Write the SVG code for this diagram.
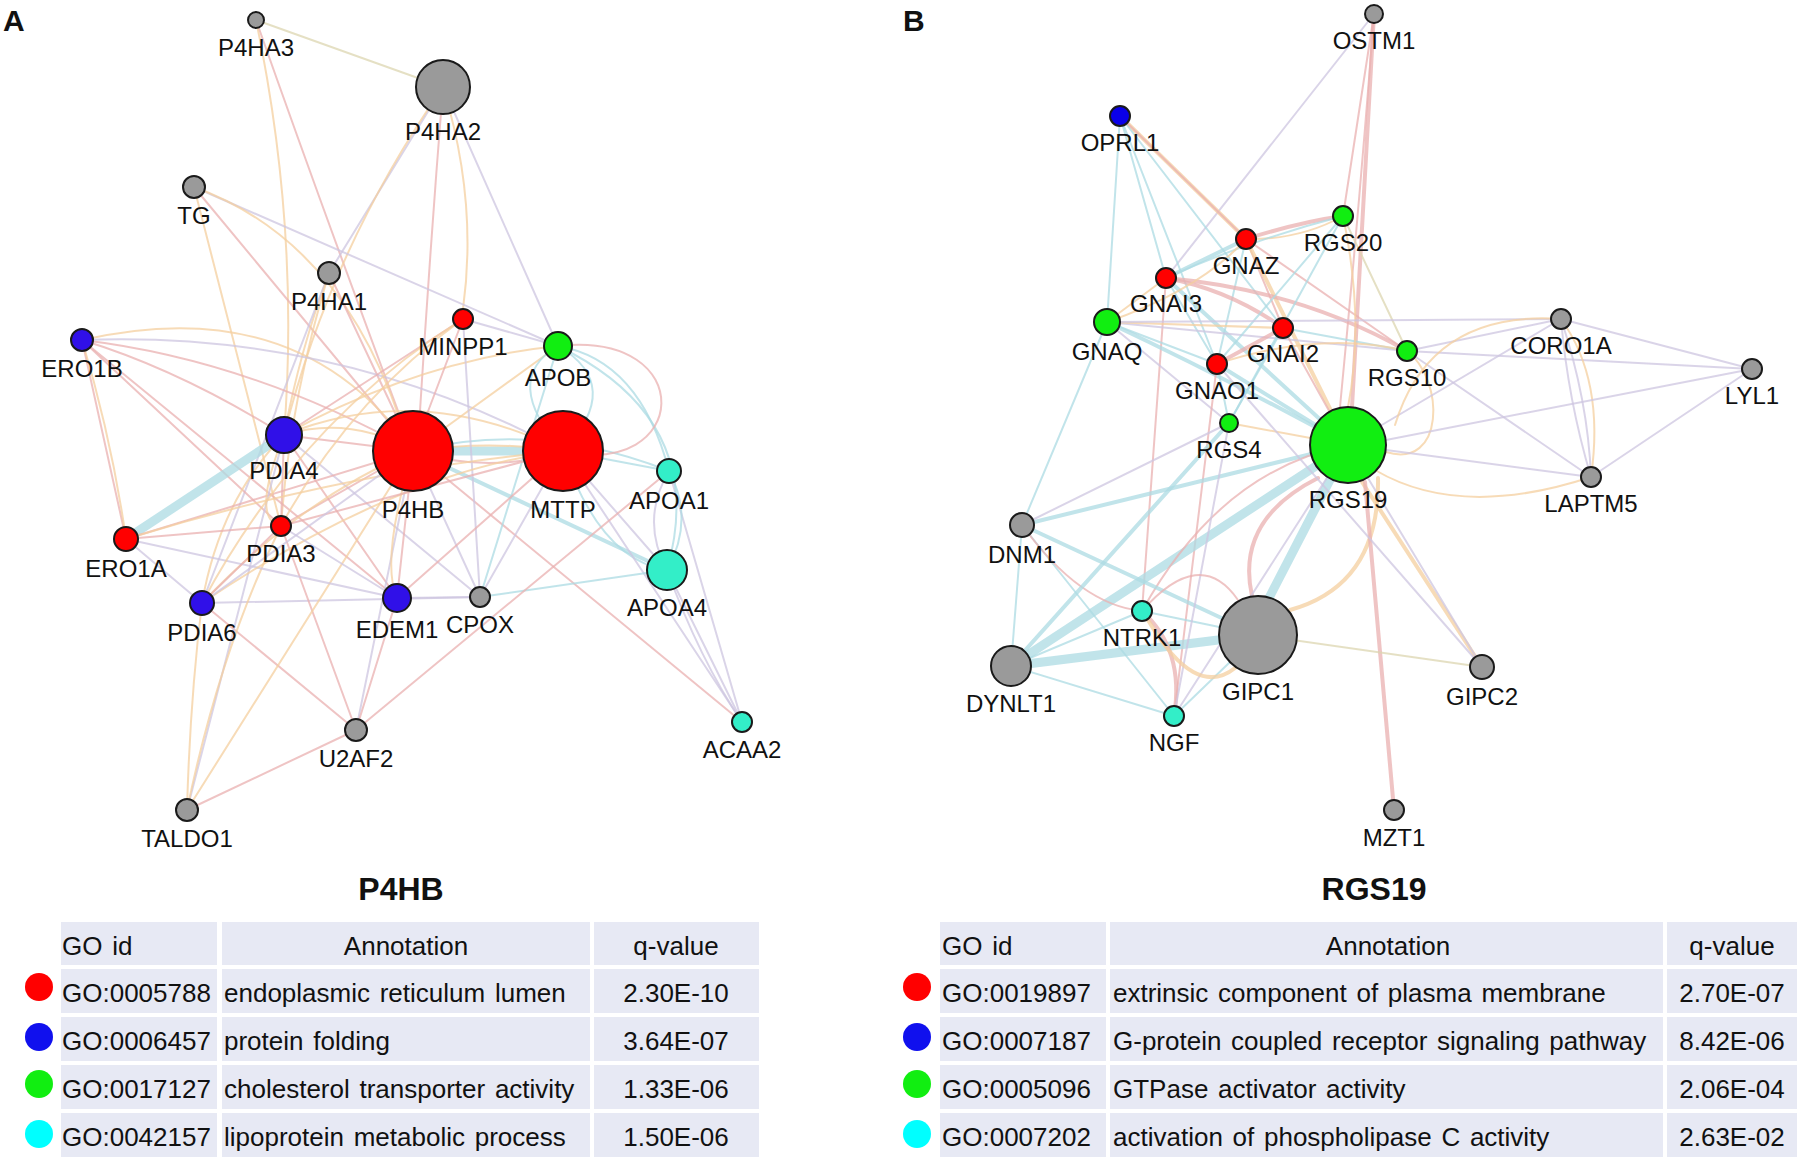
<svg xmlns="http://www.w3.org/2000/svg" width="1800" height="1160" viewBox="0 0 1800 1160">
<defs>
<style>
text{font-family:"Liberation Sans",Arial,sans-serif;fill:#111}
.lbl{font-size:24px;text-anchor:middle}
.pn{font-size:30px;font-weight:bold}
.ttl{font-size:32px;font-weight:bold;text-anchor:middle}
.tt{font-size:26px;word-spacing:2.5px}
.c{text-anchor:middle}
.cell{fill:#e7e9f4}
.n{stroke:#1a1a1a;stroke-width:2}
.red{fill:#ff0000}.blu{fill:#3010e8}.grn{fill:#11ee11}.tur{fill:#33eec8}.gry{fill:#9a9a9a}
#connectors path{fill:none;stroke-width:2;stroke-linecap:round;opacity:.75}
.p{stroke:#eab0b0}.o{stroke:#f4cf9f}.l{stroke:#cec6e0}.b{stroke:#acdbe3}.t{stroke:#dcd6b0}
#connectors path.m{stroke-width:4}
#connectors path.k{stroke-width:9}
</style>
</defs>
<rect width="1800" height="1160" fill="#ffffff"/>

<g id="connectors">
<!-- Panel A -->
<path class="t" d="M256,20 L443,87"/>
<path class="p" d="M256,20 Q330,230 413,451"/>
<path class="o" d="M256,20 Q300,230 284,435"/>
<path class="p" d="M443,87 Q430,250 420,411"/>
<path class="o" d="M443,87 Q478,200 463,309"/>
<path class="l" d="M443,87 L329,273"/>
<path class="o" d="M443,87 Q330,250 284,435"/>
<path class="l" d="M443,87 L558,346"/>
<path class="p" d="M194,187 L413,451"/>
<path class="l" d="M194,187 L558,346"/>
<path class="o" d="M194,187 L281,526"/>
<path class="o" d="M194,187 Q340,240 400,420"/>
<path class="p" d="M329,273 L413,451"/>
<path class="o" d="M329,273 Q300,350 284,435"/>
<path class="l" d="M329,273 L202,603"/>
<path class="o" d="M329,273 Q290,400 281,526"/>
<path class="p" d="M82,340 L126,539"/>
<path class="o" d="M82,340 Q112,440 126,539"/>
<path class="p" d="M82,340 Q180,370 284,435"/>
<path class="o" d="M82,340 Q300,290 413,451"/>
<path class="p" d="M82,340 Q250,360 413,451"/>
<path class="p" d="M82,340 L281,526"/>
<path class="p" d="M82,340 L397,598"/>
<path class="l" d="M82,340 Q340,330 563,451"/>
<path class="b k" d="M284,435 L126,539"/>
<path class="p" d="M284,435 L413,451"/>
<path class="o" d="M284,435 Q350,415 413,451"/>
<path class="o" d="M284,435 Q420,380 563,451"/>
<path class="o" d="M284,435 Q420,360 558,346"/>
<path class="p" d="M284,435 L463,319"/>
<path class="p" d="M284,435 L281,526"/>
<path class="o" d="M284,435 Q220,500 202,603"/>
<path class="p" d="M284,435 L397,598"/>
<path class="l" d="M284,435 L480,597"/>
<path class="b k" d="M413,451 L563,451"/>
<path class="o" d="M413,451 Q490,440 563,451"/>
<path class="p" d="M413,451 Q490,475 563,451"/>
<path class="o" d="M413,451 L558,346"/>
<path class="p" d="M413,451 L463,319"/>
<path class="b" d="M413,451 Q540,420 669,471"/>
<path class="b m" d="M413,451 L667,570"/>
<path class="p" d="M413,451 L397,598"/>
<path class="l" d="M413,451 L480,597"/>
<path class="p" d="M413,451 L281,526"/>
<path class="o" d="M413,451 Q300,500 202,603"/>
<path class="p" d="M413,451 L126,539"/>
<path class="l" d="M413,451 L356,730"/>
<path class="p" d="M413,451 L742,722"/>
<path class="o" d="M413,451 Q380,560 397,598"/>
<path class="b" d="M563,451 Q500,380 558,346"/>
<path class="b" d="M558,346 Q625,385 563,451"/>
<path class="b" d="M563,451 L669,471"/>
<path class="l" d="M563,451 L667,570"/>
<path class="b" d="M563,451 Q600,560 667,570"/>
<path class="l" d="M563,451 L480,597"/>
<path class="l" d="M563,451 L742,722"/>
<path class="l" d="M667,570 L742,722"/>
<path class="l" d="M667,570 Q700,660 742,722"/>
<path class="l" d="M669,471 L742,722"/>
<path class="b" d="M669,471 Q695,520 667,570"/>
<path class="l" d="M669,471 Q640,520 667,570"/>
<path class="b" d="M558,346 Q640,360 669,471"/>
<path class="b" d="M558,346 Q710,420 667,570"/>
<path class="p" d="M558,346 C700,330 690,480 563,451"/>
<path class="l" d="M397,598 L480,597"/>
<path class="l" d="M202,603 L480,597"/>
<path class="b" d="M480,597 L667,570"/>
<path class="l" d="M480,597 L463,319"/>
<path class="b" d="M480,597 L558,346"/>
<path class="p" d="M356,730 L202,603"/>
<path class="p" d="M356,730 L397,598"/>
<path class="p" d="M356,730 L281,526"/>
<path class="p" d="M356,730 L669,471"/>
<path class="p" d="M356,730 L187,810"/>
<path class="o" d="M187,810 Q190,700 202,603"/>
<path class="l" d="M187,810 L284,435"/>
<path class="o" d="M187,810 Q220,650 281,526"/>
<path class="o" d="M187,810 L413,451"/>
<path class="l" d="M126,539 L202,603"/>
<path class="p" d="M126,539 L281,526"/>
<path class="l" d="M126,539 L397,598"/>
<path class="o" d="M126,539 Q350,470 563,451"/>
<path class="p" d="M202,603 L281,526"/>
<path class="o" d="M202,603 Q400,470 563,451"/>
<path class="l" d="M463,319 L558,346"/>
<path class="o" d="M463,319 Q350,400 281,526"/>
<path class="o" d="M463,319 Q300,420 202,603"/>
<path class="l" d="M281,526 L397,598"/>
<path class="p" d="M397,598 L563,451"/>
<path class="p" d="M281,526 L563,451"/>
<path class="o" d="M284,435 Q250,520 281,526"/>
<path class="l" d="M202,603 L413,451"/>
<!-- Panel B -->
<path class="p" d="M1374,14 L1343,216"/>
<path class="p m" d="M1374,14 L1352,407"/>
<path class="p" d="M1374,14 Q1360,200 1340,407"/>
<path class="l" d="M1374,14 L1166,278"/>
<path class="o m" d="M1120,116 L1246,239"/>
<path class="b" d="M1120,116 L1166,278"/>
<path class="b" d="M1120,116 L1217,364"/>
<path class="b" d="M1120,116 L1283,328"/>
<path class="p" d="M1120,116 L1246,239"/>
<path class="b" d="M1120,116 L1107,322"/>
<path class="p m" d="M1246,239 Q1300,222 1343,216"/>
<path class="o" d="M1246,239 Q1300,240 1343,216"/>
<path class="b m" d="M1246,239 L1166,278"/>
<path class="b" d="M1246,239 L1217,364"/>
<path class="p" d="M1246,239 L1283,328"/>
<path class="o m" d="M1246,239 L1348,445"/>
<path class="p" d="M1246,239 L1407,351"/>
<path class="p m" d="M1166,278 Q1230,290 1283,328"/>
<path class="p m" d="M1166,278 Q1300,290 1407,351"/>
<path class="o" d="M1166,278 L1107,322"/>
<path class="b" d="M1166,278 L1217,364"/>
<path class="b m" d="M1166,278 L1348,445"/>
<path class="b" d="M1166,278 Q1250,240 1343,216"/>
<path class="p" d="M1166,278 L1142,611"/>
<path class="l" d="M1107,322 L1407,351"/>
<path class="o" d="M1107,322 L1283,328"/>
<path class="b" d="M1107,322 L1217,364"/>
<path class="b m" d="M1107,322 Q1230,380 1348,445"/>
<path class="b" d="M1107,322 L1022,525"/>
<path class="l" d="M1107,322 L1229,423"/>
<path class="o" d="M1107,322 Q1200,290 1246,239"/>
<path class="p m" d="M1283,328 L1217,364"/>
<path class="b" d="M1283,328 L1407,351"/>
<path class="p" d="M1283,328 L1348,445"/>
<path class="b" d="M1283,328 L1229,423"/>
<path class="b" d="M1217,364 L1229,423"/>
<path class="b m" d="M1217,364 L1348,445"/>
<path class="b" d="M1217,364 L1343,216"/>
<path class="o" d="M1217,364 Q1320,330 1407,351"/>
<path class="p" d="M1217,364 L1174,716"/>
<path class="o" d="M1343,216 Q1365,320 1348,407"/>
<path class="t" d="M1343,216 L1407,351"/>
<path class="b" d="M1343,216 L1229,423"/>
<path class="l" d="M1407,351 L1561,319"/>
<path class="o" d="M1407,351 C1445,380 1445,470 1386,452"/>
<path class="l" d="M1407,351 L1591,477"/>
<path class="l" d="M1407,351 L1752,369"/>
<path class="l" d="M1561,319 L1752,369"/>
<path class="l" d="M1561,319 Q1568,400 1591,477"/>
<path class="l" d="M1561,319 Q1588,400 1591,477"/>
<path class="o" d="M1561,319 Q1605,380 1591,477"/>
<path class="l" d="M1561,319 L1348,445"/>
<path class="l" d="M1561,319 L1107,322"/>
<path class="o" d="M1561,319 Q1430,310 1395,425"/>
<path class="l" d="M1752,369 L1386,440"/>
<path class="l" d="M1752,369 L1591,477"/>
<path class="l" d="M1386,450 L1591,477"/>
<path class="o" d="M1375,470 Q1460,520 1591,477"/>
<path class="b m" d="M1348,445 L1022,525"/>
<path class="b k" d="M1348,445 L1011,666"/>
<path class="b k" d="M1330,480 L1270,596"/>
<path class="p m" d="M1318,478 Q1235,520 1252,596"/>
<path class="o m" d="M1378,478 Q1380,585 1290,610"/>
<path class="p" d="M1348,445 Q1220,470 1142,611"/>
<path class="l" d="M1348,445 L1174,716"/>
<path class="o m" d="M1362,482 L1482,667"/>
<path class="l" d="M1348,445 L1482,667"/>
<path class="p m" d="M1365,482 L1394,810"/>
<path class="o" d="M1229,423 L1348,445"/>
<path class="b" d="M1022,525 L1011,666"/>
<path class="b m" d="M1022,525 L1258,635"/>
<path class="b" d="M1022,525 L1174,716"/>
<path class="p" d="M1022,525 Q1080,605 1142,611"/>
<path class="l" d="M1022,525 L1229,423"/>
<path class="b k" d="M1011,666 L1258,635"/>
<path class="b" d="M1011,666 L1174,716"/>
<path class="b" d="M1011,666 L1142,611"/>
<path class="b m" d="M1011,666 L1229,423"/>
<path class="p m" d="M1142,611 Q1185,650 1174,716"/>
<path class="b" d="M1142,611 L1258,635"/>
<path class="b" d="M1174,716 L1258,635"/>
<path class="l" d="M1174,716 L1229,423"/>
<path class="o m" d="M1148,620 Q1195,700 1235,668"/>
<path class="p" d="M1142,611 Q1200,545 1238,600"/>
<path class="t" d="M1258,635 L1482,667"/>
<path class="l" d="M1482,667 L1217,364"/>
</g>

<!-- Panel A nodes -->
<text class="pn" x="3" y="31">A</text>
<g id="P4HA3"><circle class="n gry" cx="256" cy="20" r="8"/><text class="lbl" x="256" y="56">P4HA3</text></g>
<g id="P4HA2"><circle class="n gry" cx="443" cy="87" r="27"/><text class="lbl" x="443" y="140">P4HA2</text></g>
<g id="TG"><circle class="n gry" cx="194" cy="187" r="11"/><text class="lbl" x="194" y="224">TG</text></g>
<g id="P4HA1"><circle class="n gry" cx="329" cy="273" r="11"/><text class="lbl" x="329" y="310">P4HA1</text></g>
<g id="MINPP1"><circle class="n red" cx="463" cy="319" r="10"/><text class="lbl" x="463" y="355">MINPP1</text></g>
<g id="ERO1B"><circle class="n blu" cx="82" cy="340" r="11"/><text class="lbl" x="82" y="377">ERO1B</text></g>
<g id="APOB"><circle class="n grn" cx="558" cy="346" r="14"/><text class="lbl" x="558" y="386">APOB</text></g>
<g id="PDIA4"><circle class="n blu" cx="284" cy="435" r="18"/><text class="lbl" x="284" y="479">PDIA4</text></g>
<g id="P4HB"><circle class="n red" cx="413" cy="451" r="40"/><text class="lbl" x="413" y="518">P4HB</text></g>
<g id="MTTP"><circle class="n red" cx="563" cy="451" r="40"/><text class="lbl" x="563" y="518">MTTP</text></g>
<g id="APOA1"><circle class="n tur" cx="669" cy="471" r="12"/><text class="lbl" x="669" y="509">APOA1</text></g>
<g id="ERO1A"><circle class="n red" cx="126" cy="539" r="12"/><text class="lbl" x="126" y="577">ERO1A</text></g>
<g id="PDIA3"><circle class="n red" cx="281" cy="526" r="10"/><text class="lbl" x="281" y="562">PDIA3</text></g>
<g id="PDIA6"><circle class="n blu" cx="202" cy="603" r="12"/><text class="lbl" x="202" y="641">PDIA6</text></g>
<g id="EDEM1"><circle class="n blu" cx="397" cy="598" r="14"/><text class="lbl" x="397" y="638">EDEM1</text></g>
<g id="CPOX"><circle class="n gry" cx="480" cy="597" r="10"/><text class="lbl" x="480" y="633">CPOX</text></g>
<g id="APOA4"><circle class="n tur" cx="667" cy="570" r="20"/><text class="lbl" x="667" y="616">APOA4</text></g>
<g id="U2AF2"><circle class="n gry" cx="356" cy="730" r="11"/><text class="lbl" x="356" y="767">U2AF2</text></g>
<g id="ACAA2"><circle class="n tur" cx="742" cy="722" r="10"/><text class="lbl" x="742" y="758">ACAA2</text></g>
<g id="TALDO1"><circle class="n gry" cx="187" cy="810" r="11"/><text class="lbl" x="187" y="847">TALDO1</text></g>

<!-- Panel B nodes -->
<text class="pn" x="903" y="31">B</text>
<g id="OSTM1"><circle class="n gry" cx="1374" cy="14" r="9"/><text class="lbl" x="1374" y="49">OSTM1</text></g>
<g id="OPRL1"><circle class="n" fill="#0a00e8" cx="1120" cy="116" r="10"/><text class="lbl" x="1120" y="151">OPRL1</text></g>
<g id="RGS20"><circle class="n grn" cx="1343" cy="216" r="10"/><text class="lbl" x="1343" y="251">RGS20</text></g>
<g id="GNAZ"><circle class="n red" cx="1246" cy="239" r="10"/><text class="lbl" x="1246" y="274">GNAZ</text></g>
<g id="GNAI3"><circle class="n red" cx="1166" cy="278" r="10"/><text class="lbl" x="1166" y="312">GNAI3</text></g>
<g id="GNAQ"><circle class="n grn" cx="1107" cy="322" r="13"/><text class="lbl" x="1107" y="360">GNAQ</text></g>
<g id="GNAI2"><circle class="n red" cx="1283" cy="328" r="10"/><text class="lbl" x="1283" y="362">GNAI2</text></g>
<g id="GNAO1"><circle class="n red" cx="1217" cy="364" r="10"/><text class="lbl" x="1217" y="399">GNAO1</text></g>
<g id="RGS10"><circle class="n grn" cx="1407" cy="351" r="10"/><text class="lbl" x="1407" y="386">RGS10</text></g>
<g id="CORO1A"><circle class="n gry" cx="1561" cy="319" r="10"/><text class="lbl" x="1561" y="354">CORO1A</text></g>
<g id="LYL1"><circle class="n gry" cx="1752" cy="369" r="10"/><text class="lbl" x="1752" y="404">LYL1</text></g>
<g id="RGS4"><circle class="n grn" cx="1229" cy="423" r="9"/><text class="lbl" x="1229" y="458">RGS4</text></g>
<g id="RGS19"><circle class="n grn" cx="1348" cy="445" r="38"/><text class="lbl" x="1348" y="508">RGS19</text></g>
<g id="LAPTM5"><circle class="n gry" cx="1591" cy="477" r="10"/><text class="lbl" x="1591" y="512">LAPTM5</text></g>
<g id="DNM1"><circle class="n gry" cx="1022" cy="525" r="12"/><text class="lbl" x="1022" y="563">DNM1</text></g>
<g id="NTRK1"><circle class="n tur" cx="1142" cy="611" r="10"/><text class="lbl" x="1142" y="646">NTRK1</text></g>
<g id="GIPC1"><circle class="n gry" cx="1258" cy="635" r="39"/><text class="lbl" x="1258" y="700">GIPC1</text></g>
<g id="DYNLT1"><circle class="n gry" cx="1011" cy="666" r="20"/><text class="lbl" x="1011" y="712">DYNLT1</text></g>
<g id="GIPC2"><circle class="n gry" cx="1482" cy="667" r="12"/><text class="lbl" x="1482" y="705">GIPC2</text></g>
<g id="NGF"><circle class="n tur" cx="1174" cy="716" r="10"/><text class="lbl" x="1174" y="751">NGF</text></g>
<g id="MZT1"><circle class="n gry" cx="1394" cy="810" r="10"/><text class="lbl" x="1394" y="846">MZT1</text></g>

<!-- Table A -->
<g id="tableA">
<text class="ttl" x="401" y="900">P4HB</text>
<rect class="cell" x="61" y="922" width="156" height="43"/>
<rect class="cell" x="222" y="922" width="368" height="43"/>
<rect class="cell" x="594" y="922" width="165" height="43"/>
<rect class="cell" x="61" y="969" width="156" height="44"/>
<rect class="cell" x="222" y="969" width="368" height="44"/>
<rect class="cell" x="594" y="969" width="165" height="44"/>
<rect class="cell" x="61" y="1017" width="156" height="44"/>
<rect class="cell" x="222" y="1017" width="368" height="44"/>
<rect class="cell" x="594" y="1017" width="165" height="44"/>
<rect class="cell" x="61" y="1065" width="156" height="44"/>
<rect class="cell" x="222" y="1065" width="368" height="44"/>
<rect class="cell" x="594" y="1065" width="165" height="44"/>
<rect class="cell" x="61" y="1113" width="156" height="44"/>
<rect class="cell" x="222" y="1113" width="368" height="44"/>
<rect class="cell" x="594" y="1113" width="165" height="44"/>
<circle cx="39" cy="987" r="14" fill="#ff0000"/>
<circle cx="39" cy="1037" r="14" fill="#1010ee"/>
<circle cx="39" cy="1084" r="14" fill="#11ee11"/>
<circle cx="39" cy="1134" r="14" fill="#00ffff"/>
<text class="tt" x="62" y="955">GO id</text>
<text class="tt c" x="406" y="955">Annotation</text>
<text class="tt c" x="676" y="955">q-value</text>
<text class="tt" x="62" y="1002">GO:0005788</text>
<text class="tt" x="224" y="1002">endoplasmic reticulum lumen</text>
<text class="tt c" x="676" y="1002">2.30E-10</text>
<text class="tt" x="62" y="1050">GO:0006457</text>
<text class="tt" x="224" y="1050">protein folding</text>
<text class="tt c" x="676" y="1050">3.64E-07</text>
<text class="tt" x="62" y="1098">GO:0017127</text>
<text class="tt" x="224" y="1098">cholesterol transporter activity</text>
<text class="tt c" x="676" y="1098">1.33E-06</text>
<text class="tt" x="62" y="1146">GO:0042157</text>
<text class="tt" x="224" y="1146">lipoprotein metabolic process</text>
<text class="tt c" x="676" y="1146">1.50E-06</text>
</g>

<!-- Table B -->
<g id="tableB">
<text class="ttl" x="1374" y="900">RGS19</text>
<rect class="cell" x="940" y="922" width="166" height="43"/>
<rect class="cell" x="1110" y="922" width="553" height="43"/>
<rect class="cell" x="1667" y="922" width="130" height="43"/>
<rect class="cell" x="940" y="969" width="166" height="44"/>
<rect class="cell" x="1110" y="969" width="553" height="44"/>
<rect class="cell" x="1667" y="969" width="130" height="44"/>
<rect class="cell" x="940" y="1017" width="166" height="44"/>
<rect class="cell" x="1110" y="1017" width="553" height="44"/>
<rect class="cell" x="1667" y="1017" width="130" height="44"/>
<rect class="cell" x="940" y="1065" width="166" height="44"/>
<rect class="cell" x="1110" y="1065" width="553" height="44"/>
<rect class="cell" x="1667" y="1065" width="130" height="44"/>
<rect class="cell" x="940" y="1113" width="166" height="44"/>
<rect class="cell" x="1110" y="1113" width="553" height="44"/>
<rect class="cell" x="1667" y="1113" width="130" height="44"/>
<circle cx="917" cy="987" r="14" fill="#ff0000"/>
<circle cx="917" cy="1037" r="14" fill="#1010ee"/>
<circle cx="917" cy="1084" r="14" fill="#11ee11"/>
<circle cx="917" cy="1134" r="14" fill="#00ffff"/>
<text class="tt" x="942" y="955">GO id</text>
<text class="tt c" x="1388" y="955">Annotation</text>
<text class="tt c" x="1732" y="955">q-value</text>
<text class="tt" x="942" y="1002">GO:0019897</text>
<text class="tt" x="1113" y="1002">extrinsic component of plasma membrane</text>
<text class="tt c" x="1732" y="1002">2.70E-07</text>
<text class="tt" x="942" y="1050">GO:0007187</text>
<text class="tt" x="1113" y="1050">G-protein coupled receptor signaling pathway</text>
<text class="tt c" x="1732" y="1050">8.42E-06</text>
<text class="tt" x="942" y="1098">GO:0005096</text>
<text class="tt" x="1113" y="1098">GTPase activator activity</text>
<text class="tt c" x="1732" y="1098">2.06E-04</text>
<text class="tt" x="942" y="1146">GO:0007202</text>
<text class="tt" x="1113" y="1146">activation of phospholipase C activity</text>
<text class="tt c" x="1732" y="1146">2.63E-02</text>
</g>
</svg>
